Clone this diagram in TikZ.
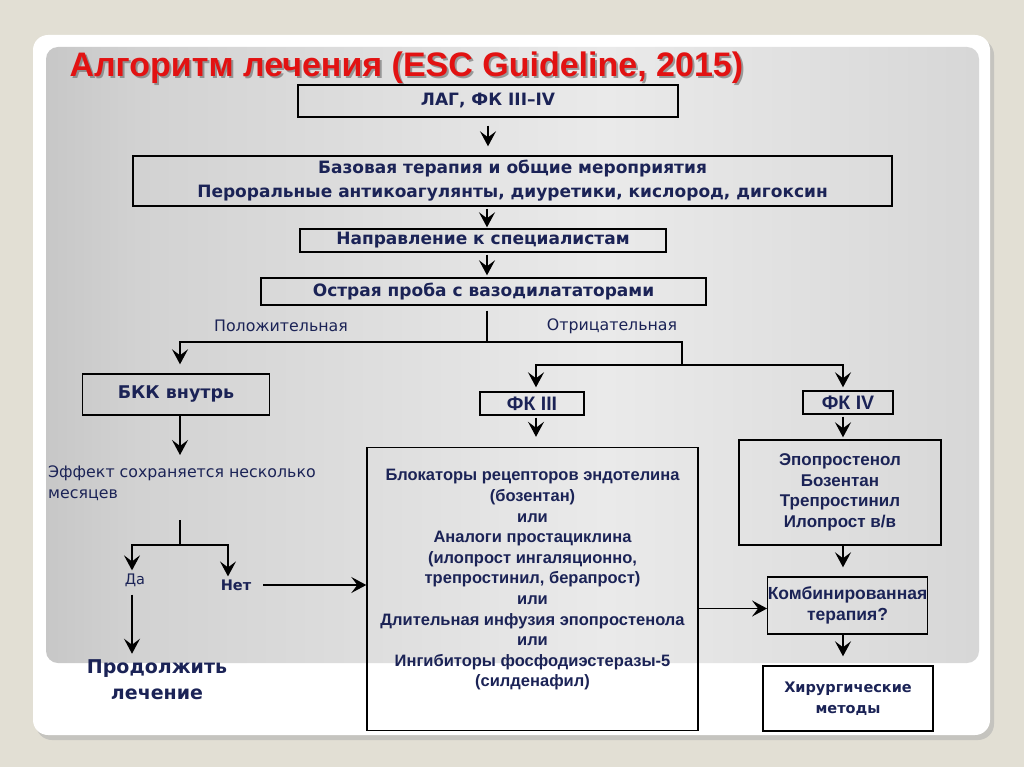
\documentclass[tikz,border=0pt]{standalone}
\usepackage{fontspec}
\setmainfont{Liberation Sans}
\newfontfamily\verd{DejaVu Sans}
\usetikzlibrary{arrows.meta,positioning}

\definecolor{slide}{RGB}{226,223,212}
\definecolor{navy}{RGB}{27,35,86}
\definecolor{titlered}{RGB}{226,18,18}
\definecolor{pdark}{RGB}{145,145,145}
\definecolor{pmid}{RGB}{210,210,210}
\definecolor{plight}{RGB}{234,234,234}
\pgfdeclarehorizontalshading{panelshade}{100bp}{color(0bp)=(pdark); color(30bp)=(pmid); color(55bp)=(plight); color(80bp)=(pmid); color(100bp)=(pdark)}

\begin{document}
\begin{tikzpicture}[x=1pt, y=-1pt]
		\tikzstyle{Box}		= [draw=black, line width=1.4pt, text=navy, inner sep=0pt, align=center]
		\tikzstyle{Head}	= [Box, font=\verd\bfseries\fontsize{17}{24}\selectfont]
		\tikzstyle{Stage}	= [Box, font=\bfseries\fontsize{19.5}{22}\selectfont]
		\tikzstyle{Drug}	= [Box, font=\bfseries\fontsize{16.5}{20.6}\selectfont]
		\tikzstyle{Note}	= [text=navy, inner sep=0pt, align=left, font=\verd\fontsize{15.8}{21}\selectfont]
		\tikzstyle{Wire}	= [line width=1.3pt]
		\tikzstyle{Arr}		= [Wire, -{Stealth[length=15pt, width=16pt, inset=6pt]}]

		% slide background
		\fill[slide] (0,0) rectangle (1024,767);
		\fill[black!30, opacity=0.6, rounded corners=16pt] (36,39) rectangle (994,740);
		\fill[white, rounded corners=15pt] (33,35) rectangle (990,735);
		\shade[shading=panelshade, rounded corners=12pt] (46,47) rectangle (979,663);

		% title
		\node at (68,79) [anchor=base west, text=black!60, opacity=0.6, font=\bfseries\fontsize{34}{38}\selectfont] {Алгоритм лечения (ESC Guideline, 2015)};
		\node (title) at (66,77) [anchor=base west, text=titlered, font=\bfseries\fontsize{34}{38}\selectfont] {Алгоритм лечения (ESC Guideline, 2015)};

		% main column
		\node (lag)   at (488,101)   [Head, minimum width=380, minimum height=32] {ЛАГ, ФК III–IV};
		\node (base)  at (512.5,181) [Head, minimum width=759, minimum height=50] {Базовая терапия и общие мероприятия\\Пероральные антикоагулянты, диуретики, кислород, дигоксин};
		\node (spec)  at (483,240.5) [Head, minimum width=366, minimum height=23] {Направление к специалистам};
		\node (probe) at (483.5,291.5) [Head, minimum width=445, minimum height=27] {Острая проба с вазодилататорами};

		\node (pos) at (281,326) [Note] {Положительная};
		\node (neg) at (612,326) [Note] {Отрицательная};

		% positive branch
		\node (bkk) at (176,394.5) [Head, minimum width=187, minimum height=41, font=\verd\bfseries\fontsize{17.5}{22}\selectfont] {БКК внутрь};
		\node (effect) at (48,466) [Note, anchor=north west] {Эффект сохраняется несколько\\месяцев};
		\node (yes) at (135,580) [Note, font=\verd\fontsize{14.5}{21}\selectfont] {Да};
		\node (no)  at (236,585) [Note, font=\verd\bfseries\fontsize{14.5}{21}\selectfont] {Нет};
		\node (cont) at (157,680) [Note, align=center, font=\verd\bfseries\fontsize{19}{26}\selectfont] {Продолжить\\лечение};

		% negative branch
		\node (fk3) at (532,403.5) [Stage, minimum width=104, minimum height=23] {ФК III};
		\node (fk4) at (848,402.5) [Stage, minimum width=90, minimum height=23] {ФК IV};
		\node (big) at (532.5,589) [Box, minimum width=331, minimum height=283] {};
		\node (bigtext) at (532.5,580) [Drug, draw=none] {Блокаторы рецепторов эндотелина\\(бозентан)\\или\\Аналоги простациклина\\(илопрост ингаляционно,\\трепростинил, берапрост)\\или\\Длительная инфузия эпопростенола\\или\\Ингибиторы фосфодиэстеразы-5\\(силденафил)};
		\node (drugs4) at (840,492.5) [Drug, minimum width=202, minimum height=105, font=\bfseries\fontsize{17}{20.6}\selectfont] {Эпопростенол\\Бозентан\\Трепростинил\\Илопрост в/в};
		\node (combo) at (847.5,605.5) [Drug, minimum width=155, minimum height=57, font=\bfseries\fontsize{17.5}{21}\selectfont] {Комбинированная\\терапия?};
		\node (surg) at (848,698.5) [Head, minimum width=170, minimum height=65, font=\verd\bfseries\fontsize{14.5}{21}\selectfont] {Хирургические\\методы};

		\coordinate (trunk)   at (487,0);
		\coordinate (split)   at (487,342);
		\coordinate (posdrop) at (180,342);
		\coordinate (negdrop) at (682,365);
		\coordinate (c3)      at (536,365);
		\coordinate (c4)      at (843,365);
		\coordinate (forktop) at (180,520);
		\coordinate (fork)    at (180,545);
		\coordinate (yesdrop) at (132,545);
		\coordinate (nodrop)  at (228,545);

		\draw [Arr, shorten <=8pt, shorten >=9pt] (lag.south) -- (lag.south |- base.north);
		\draw [Arr, shorten <=2pt, shorten >=1pt] (trunk |- base.south) -- (trunk |- spec.north);
		\draw [Arr, shorten <=2pt, shorten >=2pt] (trunk |- spec.south) -- (trunk |- probe.north);
		\draw [Wire, shorten <=5pt] (trunk |- probe.south) -- (split);
		\draw [Arr, shorten >=9pt] (split) -- (posdrop) -- (posdrop |- bkk.north);
		\draw [Wire] (split) -| (negdrop);
		\draw [Arr, shorten >=4pt] (negdrop) -- (c3) -- (c3 |- fk3.north);
		\draw [Arr, shorten >=3pt] (negdrop) -- (c4) -- (c4 |- fk4.north);
		\draw [Arr, shorten <=2pt, shorten >=10pt] (c3 |- fk3.south) -- (c3 |- big.north);
		\draw [Arr, shorten <=2pt, shorten >=2pt] (c4 |- fk4.south) -- (c4 |- drugs4.north);
		\draw [Arr, shorten >=9pt] (c4 |- drugs4.south) -- (c4 |- combo.north);
		\draw [Arr, shorten >=9pt] (c4 |- combo.south) -- (c4 |- surg.north);
		\draw [Arr] ([yshift=-3pt]big.east |- combo.west) -- ([yshift=-3pt]combo.west);

		\draw [Arr, shorten >=11pt] (posdrop |- bkk.south) -- (posdrop |- effect.north);
		\draw [Wire] (forktop) -- (fork);
		\draw [Arr, shorten >=3pt] (fork) -- (yesdrop) -- (yesdrop |- yes.north);
		\draw [Arr, shorten >=3pt] (fork) -- (nodrop) -- (nodrop |- no.north);
		\draw [Arr, shorten <=8pt, shorten >=6pt] (yesdrop |- yes.south) -- (yesdrop |- cont.north);
		\draw [Arr, shorten <=12pt] (no.east) -- (no.east -| big.west);
\end{tikzpicture}
\end{document}
